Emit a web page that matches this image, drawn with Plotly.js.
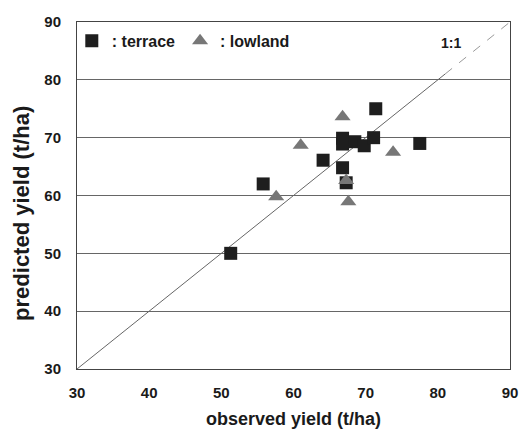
<!DOCTYPE html>
<html><head><meta charset="utf-8">
<script src="https://cdn.plot.ly/plotly-3.0.1.min.js"></script>
<style>html,body{margin:0;padding:0;background:#fff}#chart{width:522px;height:437px}</style>
</head><body><div id="chart"></div>
<script>
const terraceObserved = [51.3, 55.8, 64.1, 66.8, 66.8, 66.8, 67.3, 68.5, 69.8, 71.1, 71.4, 77.5];
const terracePredicted = [50.0, 62.0, 66.1, 69.9, 68.9, 64.8, 62.2, 69.3, 68.6, 70.0, 75.0, 69.0];
const lowlandObserved = [57.6, 61.0, 66.8, 67.3, 67.6, 73.8];
const lowlandPredicted = [59.8, 68.7, 73.6, 62.6, 58.9, 67.5];
const oneToOneSolid = [30, 81];
const oneToOneDashed = [81, 90];
const tickVals = [30, 40, 50, 60, 70, 80, 90];

const fam = 'Liberation Sans, Arial, sans-serif';
const ink = '#1a1a1a';
const traces = [
  {x: oneToOneSolid, y: oneToOneSolid, mode: 'lines', line: {color: '#666', width: 1}, showlegend: false, hoverinfo: 'skip'},
  {x: oneToOneDashed, y: oneToOneDashed, mode: 'lines', line: {color: '#999', width: 1, dash: 'dash'}, showlegend: false, hoverinfo: 'skip'},
  {x: terraceObserved, y: terracePredicted, mode: 'markers', name: ': terrace',
   marker: {symbol: 'square', size: 13, color: '#1e1e1e'}},
  {x: lowlandObserved, y: lowlandPredicted, mode: 'markers', name: ': lowland',
   marker: {symbol: 'triangle-up', size: 14, color: '#777'}}
];
const layout = {
  width: 522, height: 437,
  margin: {l: 77, r: 12, t: 22, b: 68},
  paper_bgcolor: '#fff', plot_bgcolor: '#fff',
  font: {family: fam, color: ink},
  showlegend: true,
  legend: {orientation: 'h', x: -0.012, y: 0.995, xanchor: 'left', yanchor: 'top',
           bgcolor: 'rgba(0,0,0,0)', font: {size: 16, family: fam, color: ink, weight: 'bold'}, itemwidth: 30},
  xaxis: {range: [30, 90], tickvals: tickVals, showgrid: false, zeroline: false,
          showline: true, mirror: true, linecolor: '#444', linewidth: 1, ticks: '', ticklabelstandoff: 10,
          tickfont: {size: 15, family: fam, color: ink, weight: 'bold'},
          title: {text: 'observed yield (t/ha)', font: {size: 18, family: fam, color: ink, weight: 'bold'}, standoff: 12}},
  yaxis: {range: [30, 90], tickvals: tickVals, showgrid: true, gridcolor: '#666', gridwidth: 1, zeroline: false,
          showline: true, mirror: true, linecolor: '#444', linewidth: 1, ticks: '', ticklabelstandoff: 12,
          tickfont: {size: 15, family: fam, color: ink, weight: 'bold'}},
  annotations: [
    {x: 81.8, y: 86.4, text: '1:1', showarrow: false, xref: 'x', yref: 'y',
     font: {size: 14, family: fam, color: ink, weight: 'bold'}},
    {x: -0.127, y: 0.447, xref: 'paper', yref: 'paper', text: 'predicted yield (t/ha)', textangle: -90,
     showarrow: false, xanchor: 'center', yanchor: 'middle',
     font: {size: 22, family: fam, color: ink, weight: 'bold'}}
  ]
};
Plotly.newPlot('chart', traces, layout, {displayModeBar: false, staticPlot: true});
</script></body></html>
